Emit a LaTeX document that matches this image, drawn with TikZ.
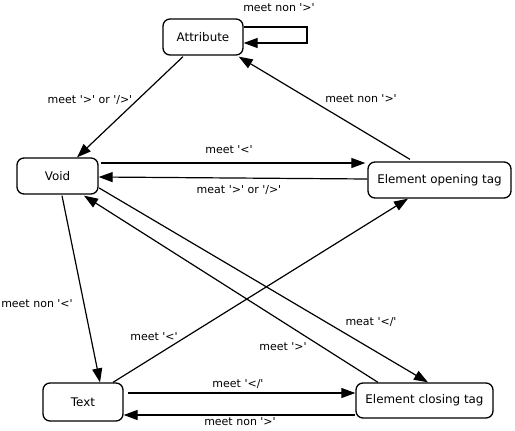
\documentclass[tikz,border=0pt]{standalone}
\usepackage{fontspec}
\setmainfont{DejaVu Sans}
\usetikzlibrary{arrows.meta,calc}
\newcommand\sq{\textquotesingle}
\begin{document}
\begin{tikzpicture}[x=1pt,y=-1pt,
  state/.style={draw,line width=1.3pt,rounded corners=7pt,inner sep=0pt,
    font=\fontsize{11.9}{14}\selectfont},
  lbl/.style={inner sep=0pt,font=\fontsize{11}{13}\selectfont},
  tr/.style={line width=1.2pt,-{Triangle[length=14pt,width=10pt]}}]
\useasboundingbox (0,0) rectangle (515,431);
\node[state,minimum width=80pt,minimum height=36pt] (attr) at (203,37) {Attribute};
\node[state,minimum width=81pt,minimum height=36pt] (void) at (57.5,176) {Void};
\node[state,minimum width=143pt,minimum height=36pt] (open) at (439.5,180) {Element opening tag};
\node[state,minimum width=80pt,minimum height=38pt] (text) at (83,402) {Text};
\node[state,minimum width=137pt,minimum height=35pt] (close) at (424.5,400.5) {Element closing tag};
\coordinate (lpa) at (307,27);
\coordinate (lpb) at (307,43);
% self loop
\draw[tr] ($(attr.east)+(0,-10)$) -- (lpa) -- (lpb) -- ($(attr.east)+(0,6)$);
% attr -> void
\draw[tr] ($(attr.south)+(-20,1)$) -- ($(void.north)+(19.5,0)$);
% open -> attr
\draw[tr] ($(open.north)+(-29.5,-2)$) -- ($(attr.south east)+(-5,1)$);
% void -> open
\draw[tr] ($(void.east)+(2,-13)$) -- ($(open.west)+(-2,-17)$);
% open -> void
\draw[tr] ($(open.west)+(0,-1)$) -- ($(void.east)+(0,1)$);
% void -> text
\draw[tr] ($(void.south)+(4.5,1)$) -- ($(text.north)+(17,0)$);
% text -> open
\draw[tr] ($(text.north)+(30,0)$) -- ($(open.south)+(-31.5,0)$);
% void -> close
\draw[tr] ($(void.east)+(0.5,12)$) -- ($(close.north)+(3.5,0)$);
% close -> void
\draw[tr] ($(close.north)+(-46.5,0)$) -- ($(void.south)+(26.5,1)$);
% text -> close
\draw[tr] ($(text.east)+(4,-9)$) -- ($(close.west)+(0,-7.5)$);
% close -> text
\draw[tr] ($(close.west)+(0,14.5)$) -- ($(text.east)+(0,13)$);
% labels
\node[lbl] (l1) at (279,8) {meet non \sq>\sq};
\node[lbl] (l2) at (90,100) {meet \sq>\sq{} or \sq/>\sq};
\node[lbl] (l3) at (361,99) {meet non \sq>\sq};
\node[lbl] (l4) at (229,150) {meet \sq<\sq};
\node[lbl] (l5) at (239,190) {meat \sq>\sq{} or \sq/>\sq};
\node[lbl] (l6) at (37,304) {meet non \sq<\sq};
\node[lbl] (l7) at (154,337) {meet \sq<\sq};
\node[lbl] (l8) at (371,322) {meat \sq</\sq};
\node[lbl] (l9) at (283,347) {meet \sq>\sq};
\node[lbl] (l10) at (238,384) {meet \sq</\sq};
\node[lbl] (l11) at (240,422) {meet non \sq>\sq};
\end{tikzpicture}
\end{document}
